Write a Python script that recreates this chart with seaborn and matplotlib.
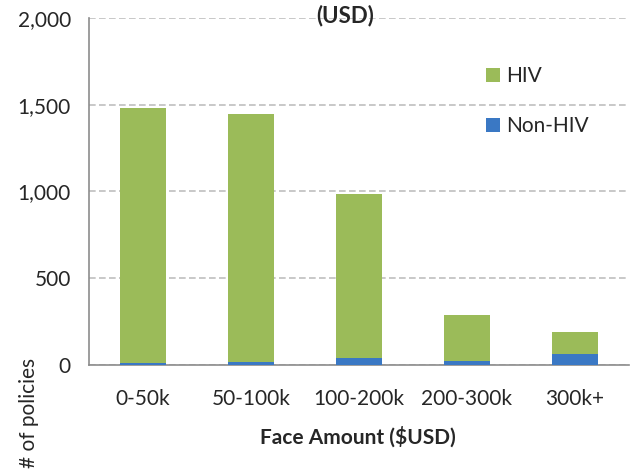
import matplotlib
matplotlib.use("Agg")
import matplotlib.pyplot as plt
import seaborn as sns
import pandas as pd
import numpy as np

categories = ["0-50k", "50-100k", "100-200k", "200-300k", "300k+"]
non_hiv = [10, 18, 38, 25, 66]
totals = [1482, 1447, 983, 288, 188]
hiv = [t - n for t, n in zip(totals, non_hiv)]

sns.set_theme(style="white")
plt.rcParams["font.family"] = ["Lato", "DejaVu Sans"]

fig = plt.figure(figsize=(6.35, 4.75), dpi=100)
ax = fig.add_axes([89/635, 1-365/475, (629-89)/635, (365-18)/475])

green = "#9bbb59"
blue = "#3a78c4"

df = pd.DataFrame({"cat": categories, "total": totals, "non": non_hiv})
sns.barplot(data=df, x="cat", y="total", color=green, width=0.42, ax=ax,
            saturation=1, label="HIV", zorder=3, linewidth=0)
sns.barplot(data=df, x="cat", y="non", color=blue, width=0.42, ax=ax,
            saturation=1, label="Non-HIV", zorder=4, linewidth=0)

FS = 15
ax.set_ylim(0, 2000)
ax.set_xlim(-0.5, 4.5)
ax.set_yticks([0, 500, 1000, 1500, 2000])
ax.set_yticklabels(["0", "500", "1,000", "1,500", "2,000"], fontsize=FS)
ax.yaxis.grid(True, color="#bfbfbf", linestyle=(0, (4, 2)), linewidth=1.2)
ax.set_axisbelow(True)

ax.set_xticks(range(5))
ax.set_xticklabels(categories, fontsize=FS)
ax.tick_params(axis="x", length=0, pad=17)
ax.set_xticks([0.5, 1.5, 2.5, 3.5, 4.5], minor=True)
ax.tick_params(axis="x", which="minor", length=7, color="#8c8c8c", width=1.2, direction="out")
ax.tick_params(axis="y", length=5, color="#8c8c8c", width=1.2, direction="out", pad=8)

for s in ["top", "right"]:
    ax.spines[s].set_visible(False)
for s in ["left", "bottom"]:
    ax.spines[s].set_color("#8c8c8c")
    ax.spines[s].set_linewidth(1.2)

ax.set_xlabel("")
ax.set_ylabel("")

fig.text(358/635, 1-437/475, "Face Amount ($USD)", ha="center", va="center",
         fontsize=FS, fontweight="bold")
fig.text(29/635, 1-413/475, "# of policies", ha="center", va="center",
         rotation=90, fontsize=FS)
fig.text(345/635, 1-22/475, "(USD)", ha="center", va="baseline",
         fontsize=16, fontweight="bold")

leg = ax.legend(loc="upper left", bbox_to_anchor=(0.70, 0.915), frameon=False,
                fontsize=FS, handlelength=0.7, handleheight=0.7,
                handletextpad=0.3, labelspacing=1.45)

fig.savefig("out.png", dpi=100)
